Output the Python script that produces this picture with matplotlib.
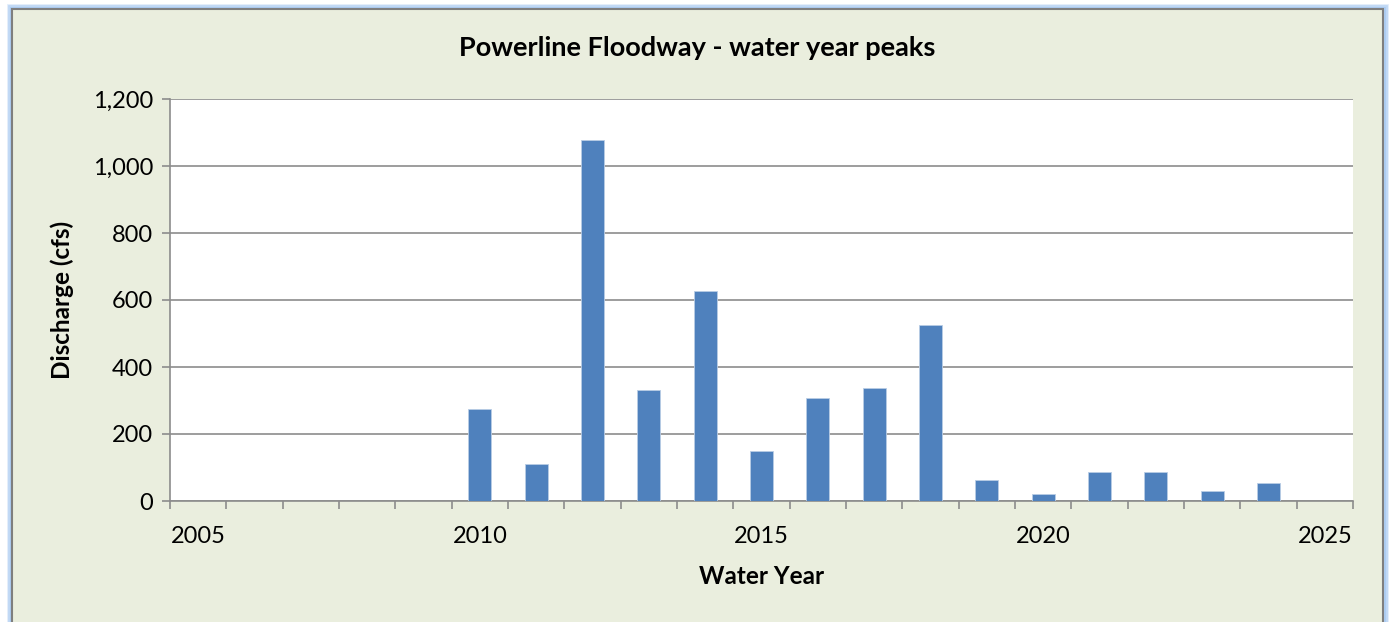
import matplotlib
matplotlib.use("Agg")
import matplotlib.pyplot as plt
from matplotlib.patches import Rectangle
import numpy as np

# Water year categories (category axis, 2005-2025)
years = list(range(2005, 2026))
peak_years = [2010, 2011, 2012, 2013, 2014, 2015, 2016, 2017, 2018, 2019, 2020, 2021, 2022, 2023, 2024]
peak_cfs = [275, 110, 1078, 331, 627, 149, 307, 337, 525, 63, 21, 86, 88, 30, 54]
y_ticks = [0, 200, 400, 600, 800, 1000, 1200]

BG = "#EAEEDE"
BAR = "#4F81BD"
GRID = "#8C8C8C"

plt.rcParams["font.family"] = ["Lato", "DejaVu Sans"]

W, H = 1389, 622
fig = plt.figure(figsize=(W / 100, H / 100), dpi=100)
fig.patch.set_facecolor("white")

# outer glow + chart frame
for i, a in enumerate([0.3, 0.5, 0.8]):
    off = 4 - 1.3 * i
    fig.patches.append(Rectangle(((12 - off) / W, -0.05), (1371 + 2 * off) / W, 0.05 + (613 + off) / H,
                                 transform=fig.transFigure, facecolor="none",
                                 edgecolor="#9DC3F0", alpha=a, lw=2, zorder=-3))
fig.patches.append(Rectangle((12 / W, -0.05), 1371 / W, 0.05 + 613 / H, transform=fig.transFigure,
                             facecolor=BG, edgecolor="#7F7F7F", lw=1.5, zorder=-2))

ax = fig.add_axes([170 / W, 1 - 501 / H, (1353 - 170) / W, (501 - 99) / H])
ax.set_facecolor("white")

x = np.array([years.index(y) for y in peak_years])
ax.bar(x, peak_cfs, width=0.41, color=BAR, edgecolor="#B9CDE5", linewidth=0.6, zorder=3)

ax.set_xlim(-0.5, len(years) - 0.5)
ax.set_ylim(0, 1200)
ax.set_yticks(y_ticks)
ax.set_yticklabels([f"{v:,}" for v in y_ticks])
ax.yaxis.grid(True, color=GRID, lw=1.2, zorder=0)

# labels every 5th category, tick marks between categories
lab_pos = [i for i, y in enumerate(years) if y % 5 == 0]
ax.set_xticks(lab_pos)
ax.set_xticklabels([str(years[i]) for i in lab_pos])
ax.tick_params(axis="x", length=0, pad=18, labelsize=17)
ax.set_xticks(np.arange(-0.5, len(years)), minor=True)
ax.tick_params(axis="x", which="minor", length=6, width=1.2, color=GRID, direction="out")
ax.tick_params(axis="y", length=6, width=1.2, color=GRID, direction="out", pad=6, labelsize=17)

for s in ["top", "right"]:
    ax.spines[s].set_visible(False)
for s in ["left", "bottom"]:
    ax.spines[s].set_color(GRID)
    ax.spines[s].set_linewidth(1.2)
ax.set_axisbelow(True)

fig.text(697 / W, 1 - 48 / H, "Powerline Floodway - water year peaks", ha="center", va="center",
         fontsize=19.5, fontweight="bold")
fig.text(762 / W, 1 - 576 / H, "Water Year", ha="center", va="center", fontsize=17.5, fontweight="bold")
fig.text(62 / W, 1 - 300 / H, "Discharge (cfs)", ha="center", va="center", rotation=90,
         fontsize=17.5, fontweight="bold")

fig.savefig("out.png", dpi=100, facecolor=fig.get_facecolor())
